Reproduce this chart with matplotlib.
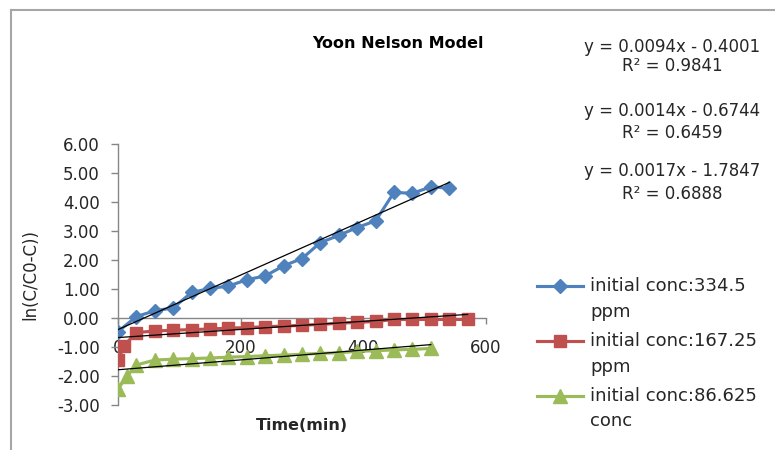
import numpy as np
import matplotlib
matplotlib.use("Agg")
import matplotlib.pyplot as plt
from matplotlib.lines import Line2D
from matplotlib.legend_handler import HandlerLine2D
from matplotlib.ticker import FormatStrFormatter

plt.rcParams['font.family'] = ['DejaVu Sans']
plt.rcParams['axes.unicode_minus'] = False

W, H, DPI = 775, 450, 100

# Yoon-Nelson linearised breakthrough data: ln(C/(C0-C)) against time (min)
t_334 = [0, 30, 60, 90, 120, 150, 180, 210, 240, 270, 300, 330, 360, 390,
         420, 450, 480, 510, 540]
y_334 = [-0.47, 0.05, 0.25, 0.35, 0.88, 1.02, 1.10, 1.32, 1.45, 1.80, 2.05,
         2.60, 2.85, 3.12, 3.35, 4.33, 4.30, 4.52, 4.48]

t_167 = [0, 10, 30, 60, 90, 120, 150, 180, 210, 240, 270, 300, 330, 360,
         390, 420, 450, 480, 510, 540, 570]
y_167 = [-1.45, -0.95, -0.50, -0.45, -0.42, -0.40, -0.38, -0.35, -0.33,
         -0.30, -0.28, -0.25, -0.22, -0.18, -0.15, -0.12, -0.05, -0.05,
         -0.05, -0.05, -0.05]

t_86 = [0, 15, 30, 60, 90, 120, 150, 180, 210, 240, 270, 300, 330, 360,
        390, 420, 450, 480, 510]
y_86 = [-2.45, -2.00, -1.62, -1.45, -1.42, -1.40, -1.38, -1.35, -1.33,
        -1.30, -1.28, -1.25, -1.22, -1.20, -1.15, -1.13, -1.10, -1.08, -1.05]

series_labels = ["initial conc:334.5\nppm",
                 "initial conc:167.25\nppm",
                 "initial conc:86.625\nconc"]

# Linear trendlines (slope, intercept, R^2)
fit_slopes = [0.0094, 0.0014, 0.0017]
fit_intercepts = [-0.4001, -0.6744, -1.7847]
fit_r2 = [0.9841, 0.6459, 0.6888]

x_ticks = [0, 200, 400, 600]
y_ticks = [-3, -2, -1, 0, 1, 2, 3, 4, 5, 6]

colors = ['#4F81BD', '#C0504D', '#9BBB59']
markers = ['D', 's', '^']
msizes = [7, 9, 10]


def fx(px):
    return px / W


def fy(py):
    return 1 - py / H


class RaisedLineHandler(HandlerLine2D):
    """Legend handle drawn beside the first line of a two-line label."""

    def __init__(self, lift, **kw):
        super().__init__(**kw)
        self.lift = lift

    def create_artists(self, legend, orig_handle, xdescent, ydescent,
                       width, height, fontsize, trans):
        arts = super().create_artists(legend, orig_handle, xdescent, ydescent,
                                      width, height, fontsize, trans)
        for a in arts:
            a.set_ydata(np.asarray(a.get_ydata(), float) + self.lift)
        return arts


fig = plt.figure(figsize=(W / DPI, H / DPI), dpi=DPI)
ax = fig.add_axes([fx(118), fy(405), (486 - 118) / W, (405 - 144) / H])

series = [(t_334, y_334), (t_167, y_167), (t_86, y_86)]
for (t, y), lab, c, mk, ms in zip(series, series_labels, colors, markers, msizes):
    ax.plot(t, y, color=c, marker=mk, markersize=ms, markerfacecolor=c,
            markeredgecolor=c, lw=2.25, label=lab, zorder=3)

for (t, y), m, b in zip(series, fit_slopes, fit_intercepts):
    xr = np.array([min(t), max(t)], float)
    ax.plot(xr, m * xr + b, color='black', lw=0.9, zorder=4)

ax.set_xlim(0, 600)
ax.set_ylim(-3, 6)
ax.set_xticks(x_ticks)
ax.set_yticks(y_ticks)
ax.yaxis.set_major_formatter(FormatStrFormatter('%.2f'))

for s in ['top', 'right']:
    ax.spines[s].set_visible(False)
ax.spines['bottom'].set_position(('data', 0))
for s in ['left', 'bottom']:
    ax.spines[s].set_color('#868686')
    ax.spines[s].set_linewidth(1.0)

ax.tick_params(axis='both', colors='#868686', labelcolor='#262626',
               labelsize=12, width=1.0)
ax.tick_params(axis='x', direction='out', length=4, pad=11)
ax.tick_params(axis='y', direction='out', length=5, pad=8)

ax.set_ylabel('ln(C/C0-C))', fontsize=12, color='#262626', va='center')
ax.yaxis.set_label_coords((30 - 118) / 368, (405 - 275) / 261)
ax.set_xlabel('Time(min)', fontsize=11.5, fontweight='bold', color='#262626',
              va='center')
ax.xaxis.set_label_coords((302 - 118) / 368, (405 - 425) / 261)

ax.set_title('Yoon Nelson Model', fontsize=11.5, fontweight='bold',
             x=(398 - 118) / 368, y=(405 - 43) / 261, va='center', pad=0)

# Trendline equations
eq_rows = [(47, 66), (111, 133), (171, 194)]
for (ya, yb), m, b, r2 in zip(eq_rows, fit_slopes, fit_intercepts, fit_r2):
    sign = '-' if b < 0 else '+'
    fig.text(fx(672), fy(ya), f"y = {m:.4f}x {sign} {abs(b):.4f}",
             ha='center', va='center', fontsize=12, color='#262626')
    fig.text(fx(672), fy(yb), f"R² = {r2:.4f}",
             ha='center', va='center', fontsize=12, color='#262626')

leg = ax.legend(loc='upper left', bbox_to_anchor=(fx(537), fy(277)),
                bbox_transform=fig.transFigure, frameon=False, fontsize=13,
                handlelength=2.55, handletextpad=0.38, labelspacing=0.62,
                borderpad=0, borderaxespad=0, numpoints=1,
                handler_map={Line2D: RaisedLineHandler(9.5)})
for txt in leg.get_texts():
    txt.set_linespacing(1.55)
    txt.set_color('#262626')

# Chart area border
fig.add_artist(Line2D([fx(11), fx(11)], [fy(10), 0], transform=fig.transFigure,
                      color='#A6A6A6', lw=1.5))
fig.add_artist(Line2D([fx(11), 1], [fy(10), fy(10)], transform=fig.transFigure,
                      color='#A6A6A6', lw=1.5))

fig.savefig('out.png', dpi=DPI)
